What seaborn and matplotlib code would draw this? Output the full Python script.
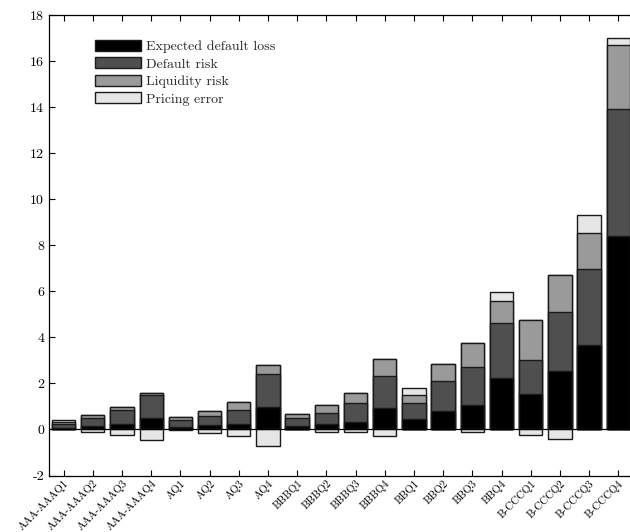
import numpy as np
import pandas as pd
import matplotlib
matplotlib.use("Agg")
import matplotlib.pyplot as plt
from matplotlib.patches import Patch
import seaborn as sns

# Credit spread decomposition by rating bucket and quarter
categories = ["AAA-AAAQ1", "AAA-AAAQ2", "AAA-AAAQ3", "AAA-AAAQ4",
              "AQ1", "AQ2", "AQ3", "AQ4",
              "BBBQ1", "BBBQ2", "BBBQ3", "BBBQ4",
              "BBQ1", "BBQ2", "BBQ3", "BBQ4",
              "B-CCCQ1", "B-CCCQ2", "B-CCCQ3", "B-CCCQ4"]
expected_default_loss = [0.05, 0.13, 0.25, 0.51, 0.12, 0.20, 0.25, 0.97,
                         0.17, 0.25, 0.32, 0.94, 0.47, 0.80, 1.07, 2.23,
                         1.55, 2.54, 3.67, 8.39]
default_risk = [0.20, 0.36, 0.61, 1.00, 0.28, 0.37, 0.58, 1.42,
                0.32, 0.46, 0.81, 1.36, 0.66, 1.32, 1.66, 2.39,
                1.48, 2.55, 3.30, 5.52]
liquidity_risk = [0.08, 0.15, 0.11, 0.07, 0.12, 0.21, 0.37, 0.42,
                  0.20, 0.36, 0.45, 0.74, 0.35, 0.74, 1.04, 0.96,
                  1.74, 1.62, 1.58, 2.77]
pricing_error = [0.08, -0.12, -0.26, -0.45, -0.03, -0.14, -0.30, -0.74,
                 0.00, -0.09, -0.13, -0.27, 0.34, 0.00, -0.10, 0.39,
                 -0.25, -0.42, 0.77, 0.33]
series_names = ["Expected default loss", "Default risk", "Liquidity risk", "Pricing error"]
y_ticks = list(range(-2, 19, 2))

colors = ["#000000", "#4f4f4f", "#9a9a9a", "#e6e6e6"]
edge = "#1a1a1a"

sns.set_theme(style="ticks")
plt.rcParams.update({
    "font.family": ["cmr10", "DejaVu Serif"],
    "mathtext.fontset": "cm",
    "axes.unicode_minus": False,
    "axes.formatter.use_mathtext": True,
    "xtick.direction": "in",
    "ytick.direction": "in",
    "xtick.top": True,
    "ytick.right": True,
    "axes.linewidth": 0.9,
    "font.size": 9.5,
})

edl = np.array(expected_default_loss)
dr = np.array(default_risk)
lr = np.array(liquidity_risk)
pe = np.array(pricing_error)

# cumulative layers, drawn back to front so the outlines mark each segment
layers = [
    (edl + dr + lr + np.clip(pe, 0, None), colors[3]),
    (edl + dr + lr, colors[2]),
    (edl + dr, colors[1]),
    (edl, colors[0]),
    (np.clip(pe, None, 0), colors[3]),
]

fig = plt.figure(figsize=(6.30, 5.32), dpi=100)
ax = fig.add_axes([49 / 630, (532 - 475.5) / 532, (632.9 - 49) / 630, 460.5 / 532])

for vals, col in layers:
    df = pd.DataFrame({"cat": categories, "val": vals})
    sns.barplot(data=df, x="cat", y="val", order=categories, color=col,
                saturation=1, edgecolor=edge, linewidth=1.0, width=0.8,
                errorbar=None, ax=ax)

ax.axhline(0, color="black", lw=0.9, zorder=3)

ax.set_xlim(-0.5, len(categories) - 0.5)
ax.set_ylim(-2, 18)
ax.set_yticks(y_ticks)
ax.set_yticklabels([str(t) for t in y_ticks])
ax.set_xlabel("")
ax.set_ylabel("")
ax.set_xticks(range(len(categories)))
ax.set_xticklabels(categories, rotation=45, ha="right", rotation_mode="anchor")
ax.tick_params(axis="both", length=4.5, width=0.8, colors="black")
ax.tick_params(axis="y", labelsize=10)
ax.tick_params(axis="x", labelsize=7.8, pad=2)
for s in ax.spines.values():
    s.set_visible(True)
    s.set_color("black")

handles = [Patch(facecolor=c, edgecolor=edge, linewidth=1.0) for c in colors]
ax.legend(handles, series_names, loc="upper left", bbox_to_anchor=(0.079, 0.946),
          frameon=False, borderpad=0, borderaxespad=0, handlelength=3.3,
          handleheight=0.85, handletextpad=0.33, labelspacing=0.3, fontsize=10)

fig.savefig("out.png", dpi=100)
